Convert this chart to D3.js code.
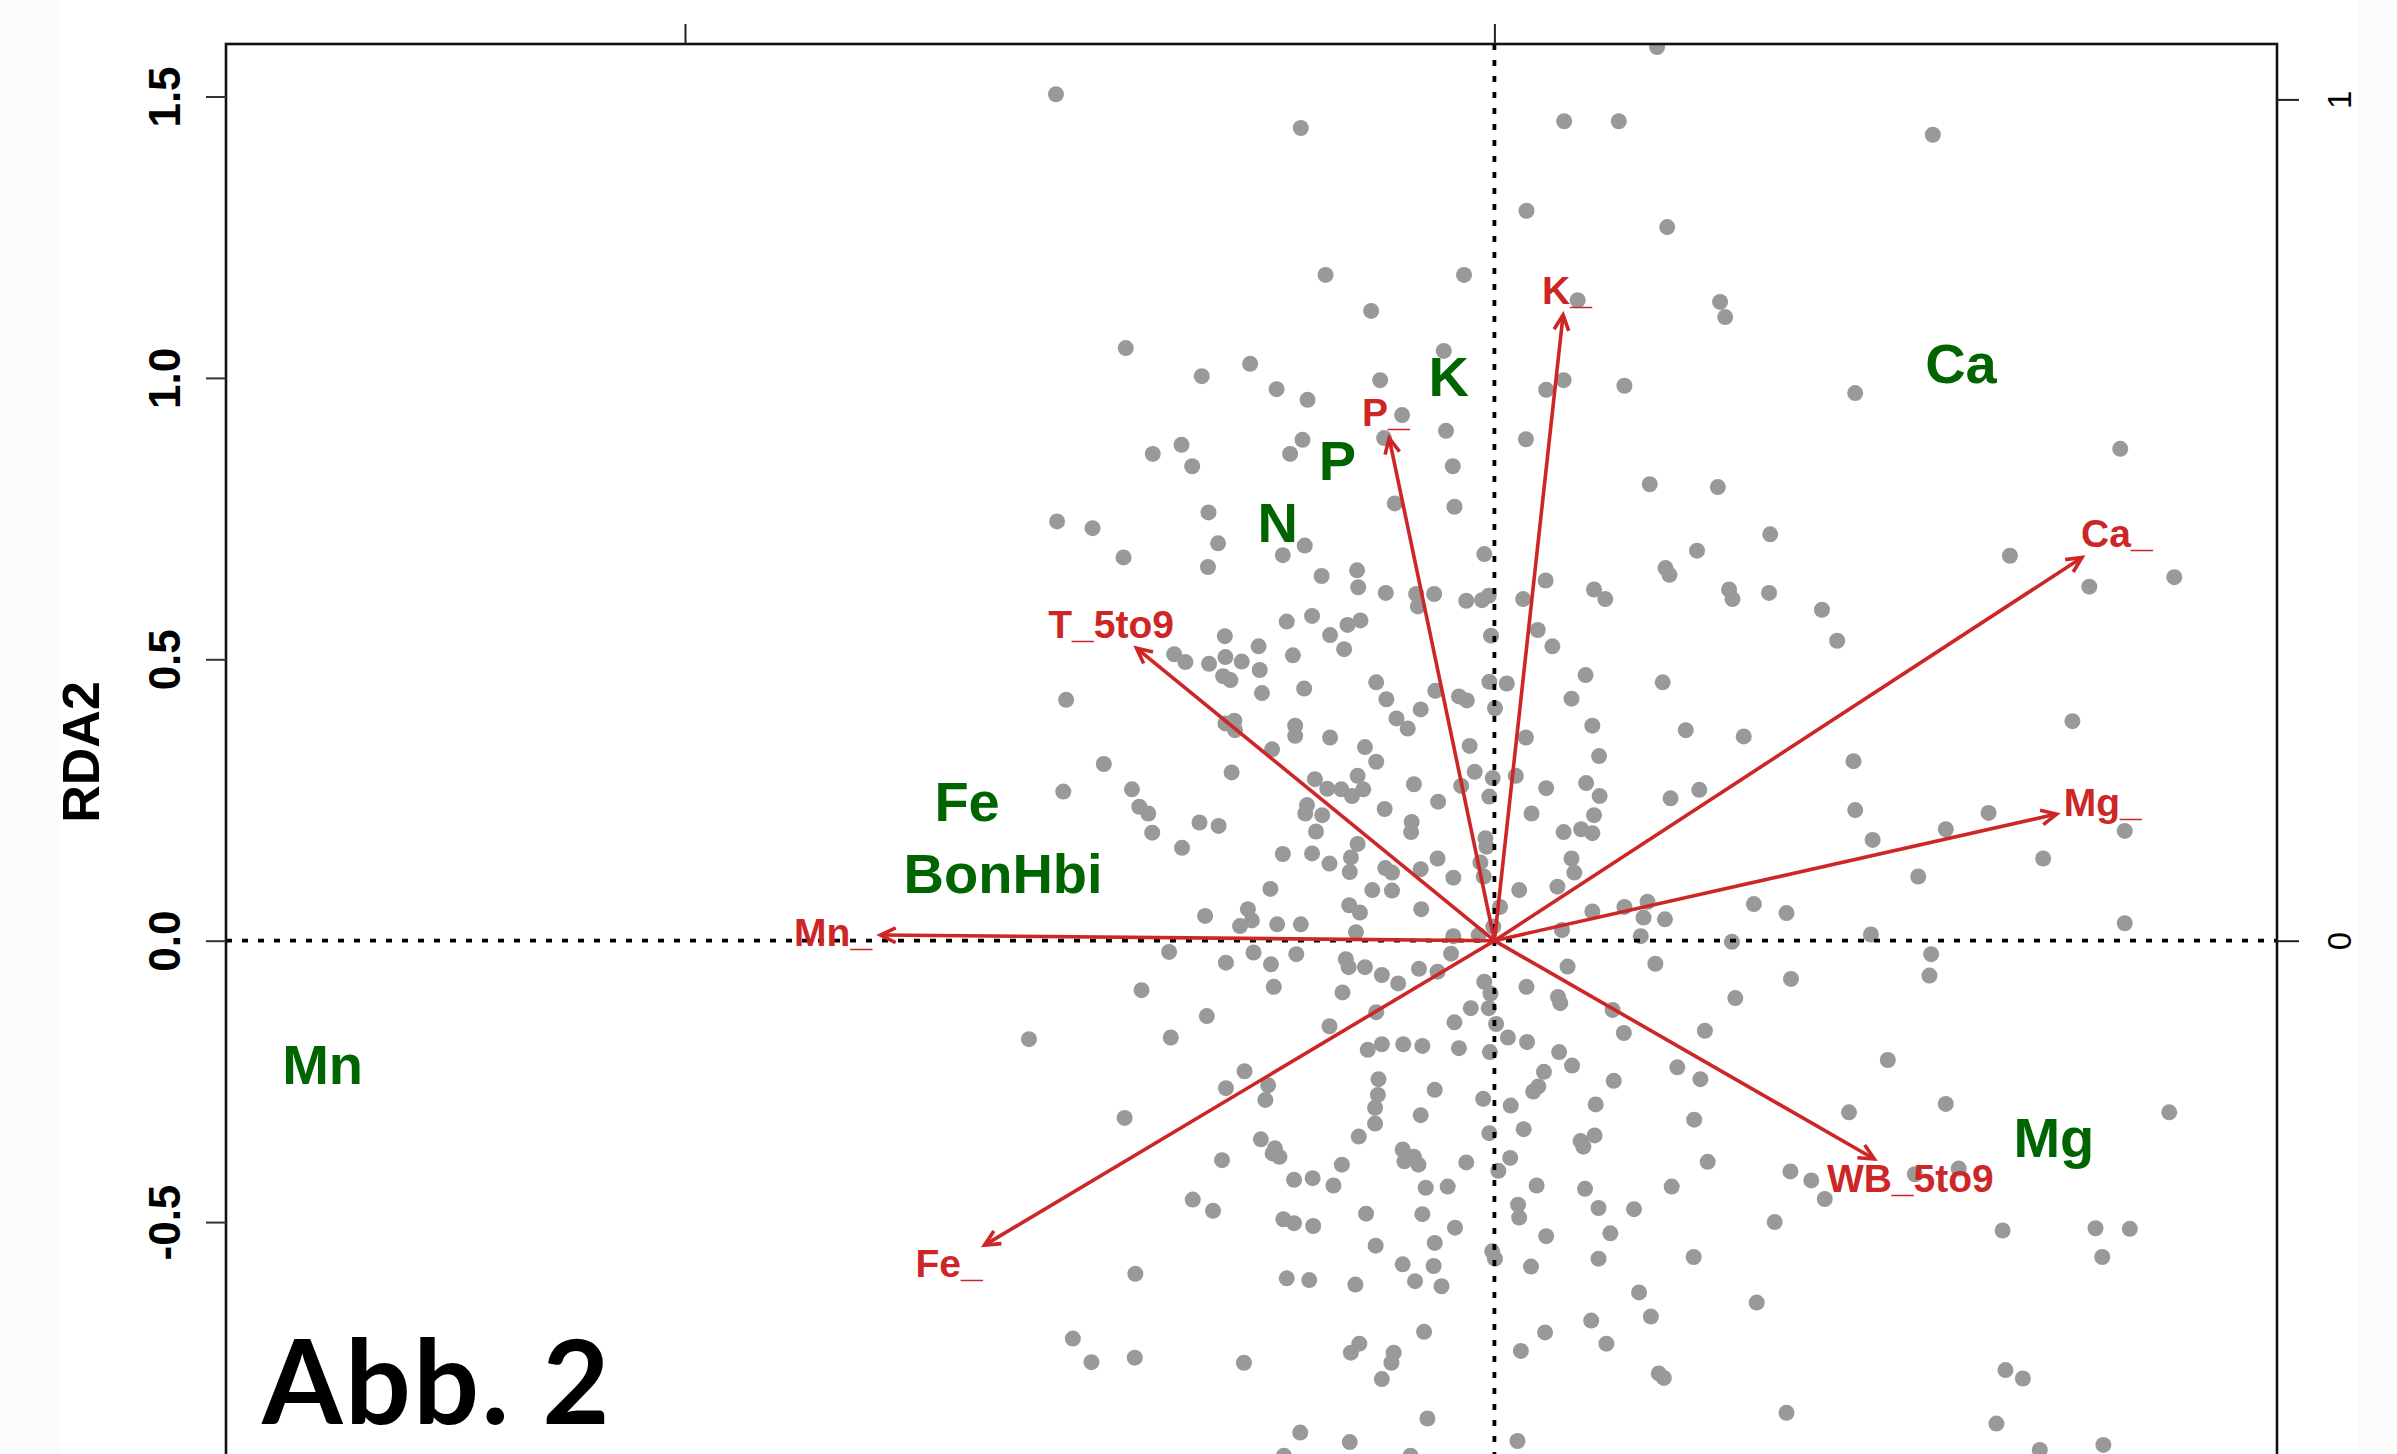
<!DOCTYPE html>
<html><head><meta charset="utf-8">
<script src="https://cdn.jsdelivr.net/npm/d3@7"></script>
<style>body{margin:0;background:#fcfcfc}svg{display:block}</style>
</head><body>
<svg id="chart" width="2397" height="1454"></svg>
<script>
// Site scores (RDA1, RDA2)
const sites = [
[-0.779,1.504],[-0.344,1.444],[0.124,1.456],[0.057,1.297],[-0.300,1.183],[-0.054,1.183],[-0.219,1.119],[0.148,1.138],[-0.655,1.053],[-0.090,1.048],[-0.434,1.025],[-0.520,1.003],[-0.203,0.996],[-0.387,0.980],[-0.332,0.961],[0.123,0.996],[0.092,0.979],[-0.164,0.934],[-0.086,0.906],[0.056,0.891],[-0.196,0.893],[-0.341,0.890],[-0.363,0.865],[-0.556,0.881],[-0.607,0.865],[-0.537,0.843],[-0.074,0.843],[0.289,1.588],[0.221,1.456],[0.779,1.432],[0.307,1.268],[0.401,1.135],[0.410,1.108],[0.231,0.986],[0.641,0.973],[1.112,0.874],[0.276,0.811],[0.397,0.806],
[-0.177,0.777],[-0.071,0.771],[-0.508,0.761],[-0.777,0.745],[-0.714,0.733],[-0.491,0.706],[-0.337,0.702],[-0.376,0.685],[-0.659,0.681],[-0.018,0.687],[-0.509,0.664],[-0.244,0.658],[-0.307,0.648],[0.091,0.640],[-0.242,0.628],[-0.193,0.618],[-0.139,0.616],[-0.107,0.616],[-0.050,0.604],[-0.022,0.605],[-0.010,0.613],[0.051,0.607],[0.177,0.624],[-0.136,0.594],[-0.369,0.567],[-0.324,0.577],[-0.261,0.561],[-0.238,0.569],[-0.292,0.543],[-0.006,0.542],[0.077,0.552],[-0.479,0.541],[-0.419,0.523],[-0.267,0.518],[0.103,0.523],[-0.569,0.509],[-0.549,0.495],[-0.507,0.492],[-0.478,0.504],[-0.449,0.496],[-0.358,0.507],[-0.417,0.481],[-0.482,0.470],[-0.469,0.463],[-0.210,0.459],[-0.009,0.460],[0.022,0.457],[0.162,0.472],[-0.192,0.429],[-0.105,0.444],[-0.063,0.434],[-0.049,0.427],[0.137,0.430],[-0.761,0.428],[-0.413,0.440],[-0.338,0.448],[0.001,0.413],[-0.131,0.411],[-0.174,0.395],[-0.154,0.377],[0.174,0.382],[-0.478,0.386],[-0.462,0.391],[-0.461,0.374],[-0.354,0.382],[-0.354,0.364],[-0.292,0.361],[0.056,0.361],[-0.044,0.346],[-0.230,0.344],[-0.395,0.340],[-0.210,0.318],[0.186,0.328],[-0.694,0.314],[-0.467,0.299],[-0.319,0.287],[-0.035,0.300],[-0.003,0.289],[0.038,0.293],[-0.243,0.293],[-0.143,0.278],[-0.059,0.275],[0.092,0.271],[0.163,0.280],[-0.297,0.270],[-0.272,0.269],[-0.253,0.257],[-0.233,0.269],[-0.644,0.269],[-0.766,0.265],[-0.009,0.256],[-0.100,0.247],[0.187,0.257],[-0.333,0.241],[-0.306,0.223],[-0.336,0.226],[-0.195,0.234],[0.066,0.226],[0.177,0.223],[-0.631,0.238],[-0.615,0.226],[-0.524,0.210],[-0.490,0.204],[-0.608,0.192],[-0.317,0.194],[-0.147,0.211],[-0.148,0.193],[-0.016,0.182],[0.123,0.193],[0.154,0.198],[0.174,0.191],[-0.243,0.172],[-0.014,0.167],[-0.555,0.165],[-0.376,0.154],[-0.324,0.155],[-0.255,0.148],[-0.293,0.137],[-0.101,0.146],[-0.025,0.139],[0.137,0.146],[-0.194,0.129],[-0.257,0.122],[-0.182,0.121],[-0.131,0.127],[-0.073,0.112],[-0.019,0.114],[0.142,0.121],[-0.398,0.092],[-0.217,0.090],[-0.182,0.089],[0.044,0.090],[0.112,0.096],[0.010,0.060],[-0.258,0.063],[-0.239,0.050],[-0.130,0.056],[-0.514,0.044],[-0.438,0.056],[-0.431,0.036],[-0.452,0.026],[-0.386,0.029],[-0.344,0.029],[-0.002,0.025],[-0.246,0.015],[-0.073,0.008],[-0.028,0.010],[0.120,0.019],[0.174,0.052],[-0.578,-0.020],[-0.477,-0.039],[-0.428,-0.021],[-0.397,-0.042],[-0.352,-0.024],[-0.264,-0.033],[-0.259,-0.047],[-0.230,-0.047],[-0.200,-0.061],[-0.171,-0.076],[-0.134,-0.050],[-0.101,-0.055],[-0.077,-0.023],[0.057,-0.082],[0.130,-0.046],[-0.018,-0.073],[-0.007,-0.094],[-0.627,-0.088],[-0.392,-0.082],[-0.270,-0.092],[0.113,-0.100],
[0.490,0.722],[0.360,0.693],[0.304,0.662],[0.311,0.650],[0.197,0.607],[0.417,0.624],[0.423,0.607],[0.488,0.618],[0.582,0.588],[0.609,0.533],[0.916,0.684],[1.057,0.629],[1.208,0.646],[0.299,0.459],[1.027,0.390],[0.340,0.374],[0.443,0.363],[0.638,0.319],[0.313,0.253],[0.364,0.268],[0.641,0.232],[0.878,0.227],[0.802,0.198],[1.120,0.195],[0.672,0.179],[0.975,0.146],[0.753,0.114],[0.231,0.060],[0.272,0.069],[0.265,0.041],[0.303,0.038],[0.461,0.065],[0.519,0.049],[0.260,0.008],[0.422,-0.002],[0.669,0.011],[1.120,0.031],[0.776,-0.024],[0.286,-0.041],[0.527,-0.068],[0.773,-0.062],[0.428,-0.102],
[-0.827,-0.175],[-0.575,-0.172],[-0.511,-0.134],[-0.293,-0.152],[-0.210,-0.127],[-0.071,-0.145],[-0.042,-0.120],[-0.010,-0.120],[0.003,-0.148],[-0.225,-0.194],[-0.200,-0.184],[-0.162,-0.184],[-0.128,-0.187],[-0.063,-0.191],[-0.008,-0.198],[0.024,-0.172],[0.058,-0.180],[0.115,-0.198],[0.138,-0.222],[0.088,-0.233],[0.117,-0.111],[-0.444,-0.232],[-0.477,-0.262],[-0.402,-0.257],[-0.407,-0.283],[-0.657,-0.315],[-0.206,-0.246],[-0.207,-0.274],[-0.212,-0.297],[-0.212,-0.325],[-0.106,-0.265],[-0.131,-0.310],[-0.020,-0.281],[0.029,-0.293],[0.078,-0.259],[0.069,-0.268],[0.052,-0.335],[-0.009,-0.342],[-0.241,-0.348],[0.180,-0.291],[-0.415,-0.353],[-0.390,-0.369],[-0.382,-0.384],[-0.394,-0.378],[-0.484,-0.390],[-0.271,-0.398],[-0.163,-0.371],[-0.160,-0.392],[-0.143,-0.384],[-0.135,-0.398],[-0.050,-0.394],[0.028,-0.386],[0.007,-0.409],[0.153,-0.356],[0.158,-0.366],[0.178,-0.346],[-0.356,-0.425],[-0.323,-0.422],[-0.286,-0.435],[-0.122,-0.439],[-0.083,-0.437],[0.075,-0.435],[0.161,-0.441],[-0.536,-0.460],[-0.500,-0.480],[-0.375,-0.495],[-0.356,-0.502],[-0.322,-0.507],[-0.228,-0.485],[-0.128,-0.486],[-0.070,-0.510],[0.042,-0.469],[0.044,-0.492],[0.092,-0.525],[0.185,-0.475],[-0.211,-0.542],[-0.106,-0.537],[-0.004,-0.552],[0.001,-0.565],[-0.163,-0.575],[-0.108,-0.578],[0.065,-0.579],[0.185,-0.565],[-0.638,-0.592],[-0.369,-0.600],[-0.329,-0.603],[-0.247,-0.611],[-0.141,-0.605],[-0.094,-0.614],[0.172,-0.675],[-0.125,-0.695],[0.090,-0.696],[-0.749,-0.707],[-0.716,-0.749],[-0.639,-0.741],[-0.445,-0.750],[-0.240,-0.716],[-0.255,-0.732],[-0.179,-0.732],[-0.183,-0.750],[0.047,-0.729],[-0.200,-0.779],[-0.119,-0.849],[-0.345,-0.874],[-0.257,-0.891],[0.041,-0.889],[-0.374,-0.915],[-0.149,-0.915],
[0.210,-0.123],[0.230,-0.164],[0.374,-0.160],[0.699,-0.212],[0.325,-0.225],[0.366,-0.246],[0.212,-0.249],[0.355,-0.318],[0.630,-0.305],[0.802,-0.290],[1.199,-0.305],[0.379,-0.393],[0.526,-0.410],[0.563,-0.426],[0.587,-0.459],[0.747,-0.415],[0.825,-0.405],[0.315,-0.437],[0.248,-0.477],[0.206,-0.520],[0.498,-0.500],[0.903,-0.515],[1.068,-0.511],[1.129,-0.512],[0.354,-0.562],[1.080,-0.562],[0.257,-0.625],[0.278,-0.668],[0.466,-0.643],[0.199,-0.716],[0.292,-0.769],[0.301,-0.777],[0.519,-0.839],[0.908,-0.763],[0.939,-0.778],[0.892,-0.858],[0.969,-0.905],[1.082,-0.896]
];

// Environmental vectors (biplot arrows)
const vecNames  = ["K_","P_","T_5to9","Mn_","Fe_","WB_5to9","Ca_","Mg_"];
const vecX      = [0.122,-0.187,-0.636,-1.091,-0.906,0.675,1.044,0.999];
const vecY      = [1.112,0.893,0.520,0.010,-0.541,-0.388,0.681,0.225];
const vecLabX   = [0.129,-0.193,-0.681,-1.175,-0.969,0.739,1.106,1.081];
const vecLabY   = [1.156,0.939,0.563,0.016,-0.573,-0.421,0.724,0.246];

// Factor centroids
const cenNames = ["Ca","K","P","N","Fe","BonHbi","Mn","Mg"];
const cenX     = [0.829,-0.081,-0.279,-0.385,-0.937,-0.873,-2.082,0.994];
const cenY     = [1.026,1.003,0.855,0.744,0.249,0.120,-0.219,-0.349];

// Axis ticks
const leftTicks  = [-0.5,0,0.5,1,1.5];
const rightTicks = [0,1];
const topTicks   = [-1,0];
const yTitle = "RDA2";
const figLabel = "Abb. 2";

const svg = d3.select("#chart");
const L=226, R=2277, T=44, B=1480;
const x = d3.scaleLinear().domain([-2.2537,1.3905]).range([L,R]);
const y = d3.scaleLinear().domain([-0.9583,1.5933]).range([B,T]);
const x2 = d3.scaleLinear().domain([-1,0]).range([685,1494.4]);
const y2 = d3.scaleLinear().domain([0,1]).range([940.7,99.4]);

svg.append("rect").attr("x",61).attr("y",0).attr("width",2297).attr("height",1454).attr("fill","#fff");

svg.append("defs").append("clipPath").attr("id","plotclip")
  .append("rect").attr("x",L).attr("y",T).attr("width",R-L).attr("height",B-T);

const FONT = "'Liberation Sans', Arial, Helvetica, sans-serif";

// points
svg.append("g").attr("clip-path","url(#plotclip)")
  .selectAll("circle").data(sites).join("circle")
  .attr("cx",d=>x(d[0])).attr("cy",d=>y(d[1])).attr("r",8).attr("fill","#999999");

// dotted zero lines
const zl = svg.append("g").attr("stroke","#000").attr("stroke-width",3.8).attr("stroke-dasharray","6,10");
zl.append("line").attr("x1",L).attr("x2",R).attr("y1",y(0)).attr("y2",y(0));
zl.append("line").attr("x1",x(0)).attr("x2",x(0)).attr("y1",T).attr("y2",B);

// arrows
const RED="#cd2626";
const ag = svg.append("g").attr("stroke",RED).attr("stroke-width",3.6).attr("fill","none");
vecNames.forEach((n,i)=>{
  const x0=x(0), y0=y(0), x1=x(vecX[i]), y1=y(vecY[i]);
  ag.append("line").attr("x1",x0).attr("y1",y0).attr("x2",x1).attr("y2",y1);
  const a=Math.atan2(y1-y0,x1-x0), Lh=17, t=Math.PI/7;
  ag.append("path").attr("d",`M${x1-Lh*Math.cos(a-t)},${y1-Lh*Math.sin(a-t)}L${x1},${y1}L${x1-Lh*Math.cos(a+t)},${y1-Lh*Math.sin(a+t)}`);
});
svg.append("g").selectAll("text").data(vecNames).join("text")
  .attr("x",(d,i)=>x(vecLabX[i])).attr("y",(d,i)=>y(vecLabY[i])).attr("dy","0.358em")
  .attr("text-anchor","middle").attr("font-family",FONT).attr("font-weight","bold")
  .attr("font-size",39).attr("fill",RED).text(d=>d);

// centroid labels
svg.append("g").selectAll("text").data(cenNames).join("text")
  .attr("x",(d,i)=>x(cenX[i])).attr("y",(d,i)=>y(cenY[i])).attr("dy","0.358em")
  .attr("text-anchor","middle").attr("font-family",FONT).attr("font-weight","bold")
  .attr("font-size",56).attr("fill","#006400").text(d=>d);

// box
svg.append("rect").attr("x",L).attr("y",T).attr("width",R-L).attr("height",B-T)
  .attr("fill","none").attr("stroke","#111").attr("stroke-width",2.6);

// left axis
const ax = svg.append("g").attr("transform",`translate(${L},0)`)
  .call(d3.axisLeft(y).tickValues(leftTicks).tickSize(20).tickFormat(d=>d3.format(".1f")(d).replace("\u2212","-")));
ax.select(".domain").remove();
ax.selectAll(".tick line").attr("stroke","#333").attr("stroke-width",2);
ax.selectAll(".tick text").attr("x",null).attr("dy",null).attr("fill","#000")
  .attr("transform","translate(-46,0) rotate(-90)").attr("text-anchor","middle")
  .attr("font-family",FONT).attr("font-weight","bold").attr("font-size",44);

// right axis
const ar = svg.append("g").attr("transform",`translate(${R},0)`)
  .call(d3.axisRight(y2).tickValues(rightTicks).tickSize(22).tickFormat(d3.format("d")));
ar.select(".domain").remove();
ar.selectAll(".tick line").attr("stroke","#222").attr("stroke-width",2);
ar.selectAll(".tick text").attr("x",null).attr("dy",null).attr("fill","#000")
  .attr("transform","translate(74,0) rotate(-90)").attr("text-anchor","middle")
  .attr("font-family",FONT).attr("font-size",33);

// top axis (labels lie above the cropped picture)
const at = svg.append("g").attr("transform",`translate(0,${T})`)
  .call(d3.axisTop(x2).tickValues(topTicks).tickSize(20).tickFormat(""));
at.select(".domain").remove();
at.selectAll(".tick line").attr("stroke","#222").attr("stroke-width",2);

// y title
svg.append("text").attr("transform","translate(99,752) rotate(-90)").attr("text-anchor","middle")
  .attr("font-family",FONT).attr("font-weight","bold").attr("font-size",52).attr("fill","#000").text(yTitle);

// figure label
svg.append("text").attr("x",262).attr("y",1424).attr("font-family","Lato, 'Open Sans', sans-serif")
  .attr("font-weight","bold").attr("font-size",116).attr("letter-spacing",2.5).attr("fill","#000").text(figLabel);
</script>
</body></html>
